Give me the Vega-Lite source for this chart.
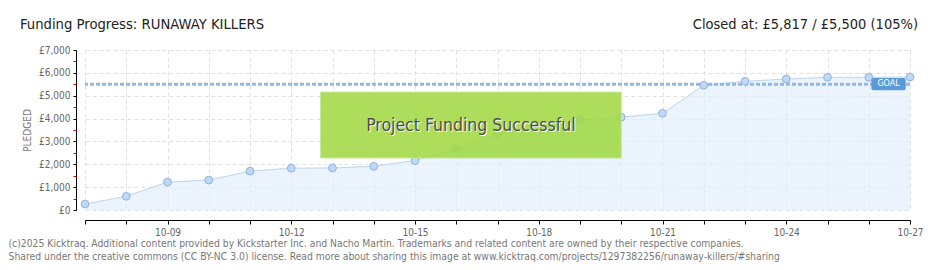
{
  "$schema": "https://vega.github.io/schema/vega-lite/v6.json",
  "width": 825,
  "height": 160,
  "autosize": {"type": "none"},
  "padding": {"left": 85, "top": 50, "right": 30, "bottom": 60},
  "background": "white",
  "config": {"view": {"stroke": null}, "font": "DejaVu Sans Condensed"},
  "datasets": {
    "pledges": [
      {"date": "2025-10-07", "pledged": 260},
      {"date": "2025-10-08", "pledged": 600},
      {"date": "2025-10-09", "pledged": 1220},
      {"date": "2025-10-10", "pledged": 1310},
      {"date": "2025-10-11", "pledged": 1700},
      {"date": "2025-10-12", "pledged": 1830},
      {"date": "2025-10-13", "pledged": 1840},
      {"date": "2025-10-14", "pledged": 1910},
      {"date": "2025-10-15", "pledged": 2160},
      {"date": "2025-10-16", "pledged": 2680},
      {"date": "2025-10-17", "pledged": 3320},
      {"date": "2025-10-19", "pledged": 3920},
      {"date": "2025-10-20", "pledged": 4065},
      {"date": "2025-10-21", "pledged": 4230},
      {"date": "2025-10-22", "pledged": 5455},
      {"date": "2025-10-23", "pledged": 5630},
      {"date": "2025-10-24", "pledged": 5730},
      {"date": "2025-10-25", "pledged": 5805},
      {"date": "2025-10-26", "pledged": 5805},
      {"date": "2025-10-27", "pledged": 5817}
    ],
    "goal": [{"goal": 5500}],
    "one": [{}]
  },
  "resolve": {"axis": {"y": "independent"}},
  "layer": [
    {
      "data": {"name": "pledges"},
      "mark": {"type": "area", "color": "#e3eefb", "opacity": 0.7},
      "encoding": {
        "x": {
          "field": "date", "type": "temporal",
          "scale": {"type": "utc", "domain": [{"year": 2025, "month": 10, "date": 7, "utc": true}, {"year": 2025, "month": 10, "date": 27, "utc": true}]},
          "axis": {
            "tickCount": {"interval": "day", "step": 1},
            "labelExpr": "utcdate(datum.value) % 3 == 0 ? utcFormat(datum.value, '%m-%d') : ''",
            "offset": 10, "domainColor": "#000", "tickColor": "#000", "tickSize": 4, "labelPadding": 3,
            "labelFont": "DejaVu Sans Condensed", "labelFontSize": 10, "labelColor": "#666", "labelFlush": false, "labelOverlap": false,
            "grid": true, "gridDash": [4, 3], "gridColor": "#e0e0e0",
            "title": ["(c)2025 Kicktraq. Additional content provided by Kickstarter Inc. and Nacho Martin. Trademarks and related content are owned by their respective companies.", "Shared under the creative commons (CC BY-NC 3.0) license. Read more about sharing this image at www.kicktraq.com/projects/1297382256/runaway-killers/#sharing"],
            "titleX": -77, "titleY": 18, "titleAlign": "left", "titleAnchor": "start", "titleBaseline": "top",
            "titleFont": "DejaVu Sans Condensed", "titleFontSize": 10.3, "titleFontWeight": "normal", "titleColor": "#777", "titleLineHeight": 13
          }
        },
        "y": {
          "field": "pledged", "type": "quantitative",
          "scale": {"domain": [0, 7000], "nice": false},
          "axis": {
            "values": [0, 1000, 2000, 3000, 4000, 5000, 6000, 7000],
            "labelExpr": "'£' + format(datum.value, ',')",
            "offset": 9, "domainColor": "#000", "tickColor": "#000", "tickSize": 3, "labelPadding": 3,
            "labelFont": "DejaVu Sans Condensed", "labelFontSize": 10, "labelColor": "#666",
            "grid": true, "gridDash": [4, 3], "gridColor": "#e0e0e0",
            "title": "PLEDGED", "titleFont": "DejaVu Sans Condensed", "titleFontSize": 10, "titleFontWeight": "normal", "titleColor": "#777", "titlePadding": 6
          }
        }
      }
    },
    {
      "data": {"name": "pledges"},
      "mark": {"type": "line", "color": "#bcd5f2", "strokeWidth": 1},
      "encoding": {
        "x": {"field": "date", "type": "temporal"},
        "y": {"field": "pledged", "type": "quantitative", "axis": null}
      }
    },
    {
      "data": {"name": "goal"},
      "mark": {"type": "rule", "color": "#93b8e3", "strokeWidth": 3, "strokeDash": [4, 2]},
      "encoding": {
        "y": {
          "field": "goal", "type": "quantitative",
          "axis": {"orient": "left", "values": [500, 1500, 2500, 3500, 4500, 5500, 6500], "labels": false, "domain": false, "grid": false, "tickColor": "#e00000", "tickSize": 3, "offset": 9, "title": null}
        }
      }
    },
    {
      "data": {"name": "pledges"},
      "mark": {"type": "point", "filled": true, "size": 60, "fill": "#bfd8f6", "stroke": "#8fb2de", "strokeWidth": 1, "opacity": 1},
      "encoding": {
        "x": {"field": "date", "type": "temporal"},
        "y": {"field": "pledged", "type": "quantitative", "axis": null}
      }
    },
    {
      "data": {"name": "one"},
      "mark": {"type": "rect", "fill": "#5b9ad9", "cornerRadius": 2},
      "encoding": {
        "x": {"datum": {"year": 2025, "month": 10, "date": 26, "hours": 1, "minutes": 30, "utc": true}, "type": "temporal"},
        "x2": {"datum": {"year": 2025, "month": 10, "date": 26, "hours": 21, "minutes": 30, "utc": true}},
        "y": {"datum": 5775, "type": "quantitative", "axis": null},
        "y2": {"datum": 5240}
      }
    },
    {
      "data": {"name": "one"},
      "mark": {"type": "text", "text": "GOAL", "color": "white", "fontSize": 8, "font": "DejaVu Sans", "align": "center", "baseline": "middle"},
      "encoding": {
        "x": {"datum": {"year": 2025, "month": 10, "date": 26, "hours": 11, "minutes": 30, "utc": true}, "type": "temporal"},
        "y": {"datum": 5510, "type": "quantitative", "axis": null}
      }
    },
    {
      "data": {"name": "one"},
      "mark": {"type": "rect", "fill": "#a2d945", "opacity": 0.88, "stroke": "#c4e78c", "strokeWidth": 1},
      "encoding": {
        "x": {"datum": {"year": 2025, "month": 10, "date": 12, "hours": 17, "utc": true}, "type": "temporal"},
        "x2": {"datum": {"year": 2025, "month": 10, "date": 20, "utc": true}},
        "y": {"datum": 5160, "type": "quantitative", "axis": null},
        "y2": {"datum": 2275}
      }
    },
    {
      "data": {"name": "one"},
      "mark": {"type": "text", "text": "Project Funding Successful", "color": "white", "fontSize": 17.5, "font": "DejaVu Sans Condensed", "align": "center", "baseline": "middle", "dx": 1, "dy": 1},
      "encoding": {
        "x": {"datum": {"year": 2025, "month": 10, "date": 16, "hours": 8, "minutes": 30, "utc": true}, "type": "temporal"},
        "y": {"datum": 3675, "type": "quantitative", "axis": null}
      }
    },
    {
      "data": {"name": "one"},
      "mark": {"type": "text", "text": "Project Funding Successful", "color": "#4d4d4d", "fontSize": 17.5, "font": "DejaVu Sans Condensed", "align": "center", "baseline": "middle"},
      "encoding": {
        "x": {"datum": {"year": 2025, "month": 10, "date": 16, "hours": 8, "minutes": 30, "utc": true}, "type": "temporal"},
        "y": {"datum": 3675, "type": "quantitative", "axis": null}
      }
    },
    {
      "data": {"name": "one"},
      "mark": {"type": "text", "text": "Funding Progress: RUNAWAY KILLERS", "color": "#222", "fontSize": 14.7, "font": "DejaVu Sans Condensed", "align": "left", "baseline": "middle", "dx": -65, "dy": -25},
      "encoding": {
        "x": {"datum": {"year": 2025, "month": 10, "date": 7, "utc": true}, "type": "temporal"},
        "y": {"datum": 7000, "type": "quantitative", "axis": null}
      }
    },
    {
      "data": {"name": "one"},
      "mark": {"type": "text", "text": "Closed at: £5,817 / £5,500 (105%)", "color": "#222", "fontSize": 14.5, "font": "DejaVu Sans Condensed", "align": "right", "baseline": "middle", "dx": 8, "dy": -25},
      "encoding": {
        "x": {"datum": {"year": 2025, "month": 10, "date": 27, "utc": true}, "type": "temporal"},
        "y": {"datum": 7000, "type": "quantitative", "axis": null}
      }
    }
  ]
}
